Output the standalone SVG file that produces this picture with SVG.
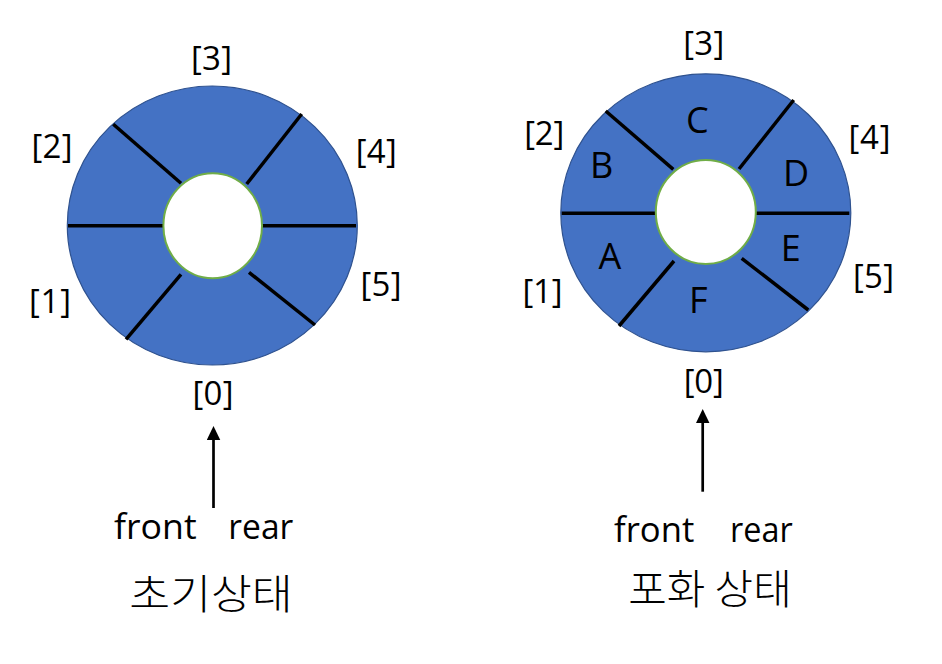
<svg xmlns="http://www.w3.org/2000/svg" width="942" height="664" viewBox="0 0 942 664">
<style>
.ring{fill:#4472C4;stroke:#2F528F;stroke-width:1.2}
.hole{fill:#ffffff;stroke:#70AD47;stroke-width:2}
.div{stroke:#000;stroke-width:3.5;fill:none}
.idx{font-family:"Open Sans","Liberation Sans",sans-serif;font-size:33px;fill:#000;text-anchor:middle}
.let{font-family:"Open Sans","Liberation Sans",sans-serif;font-size:36px;fill:#000;text-anchor:middle}
.ptr{font-family:"Open Sans","Liberation Sans",sans-serif;font-size:35px;fill:#000}
.ko{font-family:"Noto Sans CJK KR",sans-serif;font-size:41px;font-weight:300;fill:#000}
.arr{stroke:#000;stroke-width:2.7;fill:none}
</style>
<defs>
<marker id="ah" markerUnits="userSpaceOnUse" markerWidth="14" markerHeight="14" viewBox="0 0 14 14" refX="3" refY="6.75" orient="auto">
<path d="M0,0 L14,6.75 L0,13.5 z" fill="#000"/>
</marker>
</defs>

<g id="queue-initial">
<ellipse class="ring" cx="212.3" cy="225.5" rx="145" ry="139.5"/>
<line class="div" x1="68" y1="225.7" x2="163" y2="225.7"/>
<line class="div" x1="262" y1="225.7" x2="356" y2="225.7"/>
<line class="div" x1="113.3" y1="124.3" x2="181" y2="183.3"/>
<line class="div" x1="301.7" y1="114" x2="246.7" y2="184"/>
<line class="div" x1="181" y1="274.3" x2="126" y2="339.3"/>
<line class="div" x1="249" y1="272.3" x2="315" y2="325"/>
<ellipse class="hole" cx="212.7" cy="225.8" rx="49.3" ry="52.5"/>
</g>
<g id="labels-initial">
<text class="idx" x="213" y="405" textLength="41" lengthAdjust="spacing">[0]</text>
<text class="idx" x="50" y="313" textLength="42" lengthAdjust="spacing">[1]</text>
<text class="idx" x="52" y="158" textLength="41" lengthAdjust="spacing">[2]</text>
<text class="idx" x="211.5" y="70" textLength="41" lengthAdjust="spacing">[3]</text>
<text class="idx" x="376.3" y="163" textLength="41" lengthAdjust="spacing">[4]</text>
<text class="idx" x="381" y="296" textLength="41" lengthAdjust="spacing">[5]</text>
</g>

<g id="queue-full">
<ellipse class="ring" cx="705.8" cy="212.8" rx="145" ry="139"/>
<line class="div" x1="561.7" y1="213.3" x2="656" y2="213.3"/>
<line class="div" x1="755.7" y1="213.3" x2="849.3" y2="213.3"/>
<line class="div" x1="605.7" y1="111" x2="673.3" y2="169.3"/>
<line class="div" x1="793.7" y1="100" x2="739" y2="169"/>
<line class="div" x1="674" y1="261" x2="619" y2="326"/>
<line class="div" x1="741.7" y1="258.3" x2="808.3" y2="310"/>
<ellipse class="hole" cx="705.8" cy="212" rx="50" ry="52"/>
<text class="let" x="610" y="269.3">A</text>
<text class="let" x="601.7" y="178.3">B</text>
<text class="let" x="697.3" y="133.3">C</text>
<text class="let" x="796" y="186">D</text>
<text class="let" x="790.8" y="261">E</text>
<text class="let" x="698.3" y="313.3">F</text>
</g>
<g id="labels-full">
<text class="idx" x="703.7" y="393.3" textLength="40" lengthAdjust="spacing">[0]</text>
<text class="idx" x="542.5" y="303.3" textLength="40" lengthAdjust="spacing">[1]</text>
<text class="idx" x="544.3" y="145" textLength="40" lengthAdjust="spacing">[2]</text>
<text class="idx" x="703.7" y="55" textLength="41" lengthAdjust="spacing">[3]</text>
<text class="idx" x="869.5" y="149.3" textLength="42" lengthAdjust="spacing">[4]</text>
<text class="idx" x="873.5" y="288.3" textLength="41" lengthAdjust="spacing">[5]</text>
</g>

<g id="connectors">
<path class="arr" d="M213.5,508 L213.5,437" marker-end="url(#ah)"/>
<path class="arr" d="M702.7,491.7 L702.7,420" marker-end="url(#ah)"/>
</g>

<g id="pointer-initial">
<text class="ptr" x="114" y="539.3" textLength="82.7" lengthAdjust="spacingAndGlyphs">front</text>
<text class="ptr" x="228.3" y="539.3" textLength="65" lengthAdjust="spacingAndGlyphs">rear</text>
<text class="ko" x="129.3" y="609" textLength="163.4" lengthAdjust="spacingAndGlyphs">초기상태</text>
</g>
<g id="pointer-full">
<text class="ptr" x="614" y="541.7" textLength="80.3" lengthAdjust="spacingAndGlyphs">front</text>
<text class="ptr" x="730" y="541.7" textLength="62.7" lengthAdjust="spacingAndGlyphs">rear</text>
<text class="ko" x="628.3" y="604" textLength="163.4" lengthAdjust="spacingAndGlyphs">포화 상태</text>
</g>
</svg>
